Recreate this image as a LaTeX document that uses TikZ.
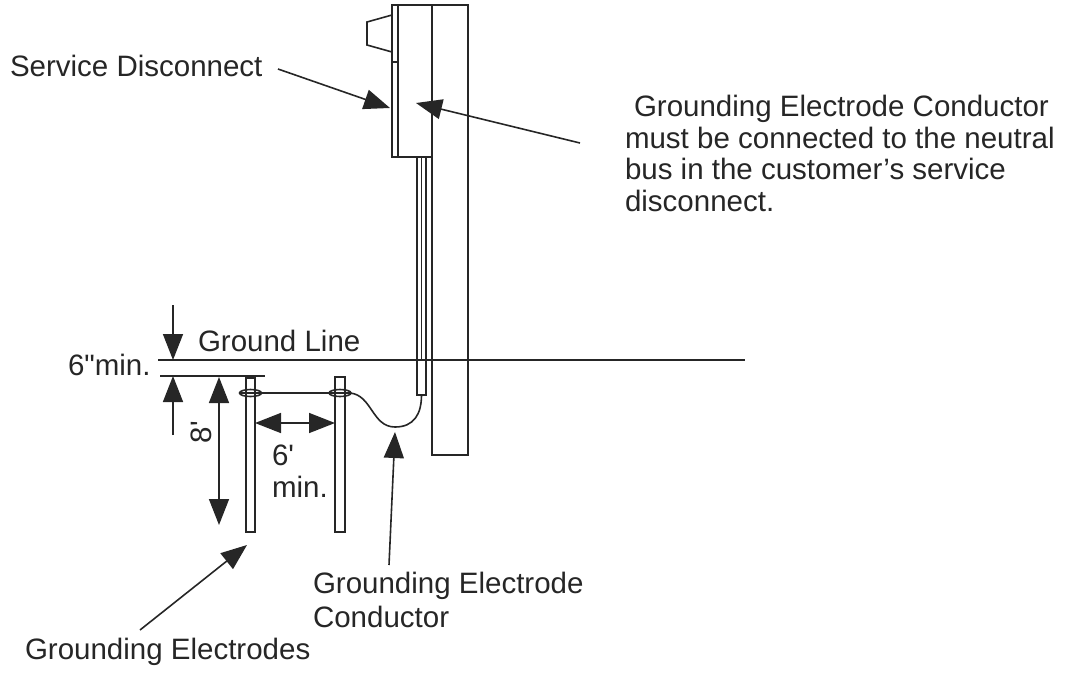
\documentclass[tikz,border=0pt]{standalone}
\usepackage{fontspec}
\setmainfont{Liberation Sans}
\newfontfamily\plainfont{Liberation Sans}
\usetikzlibrary{arrows.meta}
\begin{document}
\begin{tikzpicture}[x=1pt,y=-1pt,
  every node/.style={inner sep=0pt, outer sep=0pt, font=\fontsize{29.5}{32}\selectfont, text=black!85},
  ln/.style={line width=1.6pt, draw=black!85},
  thickln/.style={line width=2pt, draw=black!85},
  tipend/.style={-{Triangle[length=26pt,width=20pt]}},
  dtip/.style={{Triangle[length=26pt,width=20pt]}-{Triangle[length=26pt,width=20pt]}}
]
\useasboundingbox (0,0) rectangle (1070,672);

% pole
\draw[thickln] (432,5) rectangle (468,455);
% service disconnect
\draw[thickln] (398,5) rectangle (432,157);
\draw[ln] (392,5) rectangle (398,62);
\draw[ln] (392,62) rectangle (398,157);
\draw[ln] (392,15) -- (367,22) -- (367,45) -- (392,52);
% conduit
\draw[ln] (417,157) -- (417,395) -- (426,395) -- (426,157);
\draw[ln] (421.5,157) -- (421.5,360);
% ground lines
\draw[ln] (158,360) -- (745,360);
\draw[ln] (160,376) -- (265,376);
% electrodes
\draw[ln] (246,378) rectangle (255,532);
\draw[ln] (335,377) rectangle (345,532);
% conductor
\draw[ln] (240,393) -- (350,393);
\draw[ln] (250.5,393) ellipse [x radius=11pt, y radius=3.5pt];
\draw[ln] (340,393) ellipse [x radius=11pt, y radius=3.5pt];
\draw[ln] (350,393) .. controls (372,395) and (372,427) .. (395,427) .. controls (414,427) and (421.5,414) .. (421.5,395);

% dimensions
\coordinate (g1top) at (173,305);
\coordinate (g1tip) at (173,360);
\coordinate (g2bot) at (173,435);
\coordinate (g2tip) at (173,376);
\draw[ln,tipend] (g1top) -- (g1tip);
\draw[ln,tipend] (g2bot) -- (g2tip);
\coordinate (d8a) at (219,377);
\coordinate (d8b) at (219,525);
\draw[ln,dtip] (d8a) -- (d8b);
\coordinate (d6a) at (255,423);
\coordinate (d6b) at (335,423);
\draw[ln,dtip] (d6a) -- (d6b);

% labels
\node[anchor=base west] (sdlbl) at (10,76) {Service Disconnect};
\coordinate (sdtail) at (278,69);
\coordinate (sdtip) at (390,108);
\draw[ln,tipend] (sdtail) -- (sdtip);

\node[anchor=base west] (gec1) at (625,116) {\hspace*{9pt}Grounding Electrode Conductor};
\node[anchor=base west] (gec2) at (625,148) {must be connected to the neutral};
\node[anchor=base west] (gec3) at (625,179) {bus in the customer’s service};
\node[anchor=base west] (gec4) at (625,211) {disconnect.};
\coordinate (gectail) at (580,143);
\coordinate (gectip) at (416,103);
\draw[ln,tipend] (gectail) -- (gectip);

\node[anchor=base west] (gl) at (198,351) {Ground Line};
\node[anchor=base west] (sixin) at (68,375) {\plainfont 6"min.};
\node[rotate=90] (eight) at (201,432) {\plainfont 8'};
\node[anchor=base west] (sixft) at (272,465) {\plainfont 6'};
\node[anchor=base west] (sixmin) at (272,497) {min.};

\node[anchor=base west] (gc1) at (313,593) {Grounding Electrode};
\node[anchor=base west] (gc2) at (313,627) {Conductor};
\coordinate (gctail) at (389,565);
\coordinate (gctip) at (395,432);
\draw[ln,tipend] (gctail) -- (gctip);

\node[anchor=base west] (gel) at (25,659) {Grounding Electrodes};
\coordinate (geltail) at (140,630);
\coordinate (geltip) at (247,545);
\draw[ln,tipend] (geltail) -- (geltip);
\end{tikzpicture}
\end{document}
